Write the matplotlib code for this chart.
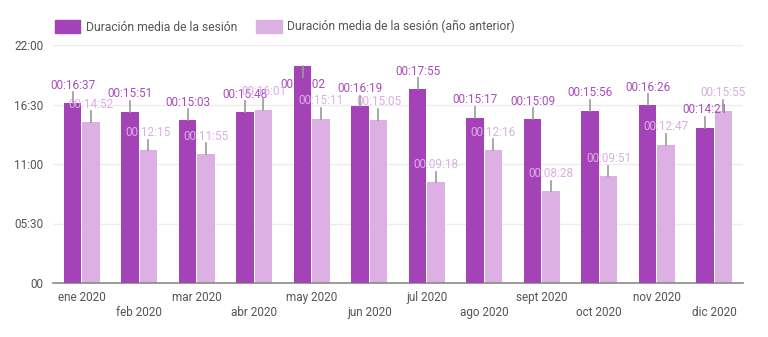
import numpy as np
import matplotlib.pyplot as plt
from matplotlib.ticker import FuncFormatter
from matplotlib.patches import Patch

plt.rcParams['font.family'] = ['Roboto', 'DejaVu Sans']

months = ["ene 2020", "feb 2020", "mar 2020", "abr 2020", "may 2020", "jun 2020",
          "jul 2020", "ago 2020", "sept 2020", "oct 2020", "nov 2020", "dic 2020"]
# session duration as mm:ss
current = ["16:37", "15:51", "15:03", "15:48", "20:02", "16:19",
           "17:55", "15:17", "15:09", "15:56", "16:26", "14:21"]
previous = ["14:52", "12:15", "11:55", "16:01", "15:11", "15:05",
            "09:18", "12:16", "08:28", "09:51", "12:47", "15:55"]
# whisker length above each bar (minutes), negative points down
current_err = [1.0, 1.0, 1.0, 1.0, -1.0, 1.0, 1.0, 1.0, 1.0, 1.0, 1.0, 1.0]
previous_err = [1.0] * 12

DARK = "#a443b8"
LIGHT = "#dcb0e3"
DARK_TXT = "#a84fbd"
LIGHT_TXT = "#dcaee3"


def to_min(s):
    m, sec = s.split(":")
    return int(m) + int(sec) / 60


def fmt_axis(v, pos):
    if v == 0:
        return "00"
    total = int(round(v * 60))
    return "%02d:%02d" % (total // 60, total % 60)


cur = np.array([to_min(s) for s in current])
prev = np.array([to_min(s) for s in previous])
x = np.arange(len(months))
w = 0.3
off = 0.16

fig = plt.figure(figsize=(7.68, 3.37), dpi=100)
ax = fig.add_axes([53 / 768, 1 - 283 / 337, 690 / 768, (283 - 45) / 337])

ax.bar(x - off, cur, w, color=DARK, zorder=4)
ax.bar(x + off, prev, w, color=LIGHT, zorder=2)

for xs, vals, errs, col, zl in [(x - off, cur, current_err, DARK_TXT, 3),
                                (x + off, prev, previous_err, LIGHT_TXT, 5)]:
    for xi, v, e, s in zip(xs, vals, errs, current if zl == 3 else previous):
        ax.plot([xi, xi], [v, v + e], color="#9a9a9a", lw=1.2, zorder=6)
        ax.text(xi, v + e + (0.05 if e > 0 else -0.05), "00:" + s,
                ha="center", va="bottom" if e > 0 else "top",
                color=col, fontsize=8.5, zorder=zl)

ax.set_xlim(-0.5, len(months) - 0.5)
ax.set_ylim(0, 22)
ax.set_yticks([0, 5.5, 11, 16.5, 22])
ax.yaxis.set_major_formatter(FuncFormatter(fmt_axis))
ax.grid(axis="y", color="#ececec", lw=1, zorder=0)
ax.set_axisbelow(True)
for sp in ["top", "right", "left"]:
    ax.spines[sp].set_visible(False)
ax.spines["bottom"].set_color("#8a8a8a")
ax.spines["bottom"].set_linewidth(1.2)
ax.tick_params(axis="y", length=0, labelsize=8.5, labelcolor="#555555", pad=7)
ax.tick_params(axis="x", length=0, labelsize=8.5, labelcolor="#555555")

ax.set_xticks(x)
ax.set_xticklabels([])
for i, m in enumerate(months):
    ax.text(i, -0.7 if i % 2 == 0 else -2.1, m, ha="center", va="top",
            fontsize=8.5, color="#555555", transform=ax.transData)

handles = [Patch(color=DARK, label="Duración media de la sesión"),
           Patch(color=LIGHT, label="Duración media de la sesión (año anterior)")]
fig.legend(handles=handles, loc="upper left", bbox_to_anchor=(44 / 768, 1 - 9 / 337),
           ncol=2, frameon=False, fontsize=8.7, labelcolor="#555555",
           handlelength=2.1, handleheight=1.3, columnspacing=1.6, handletextpad=0.45)

fig.savefig("out.png", dpi=100)
